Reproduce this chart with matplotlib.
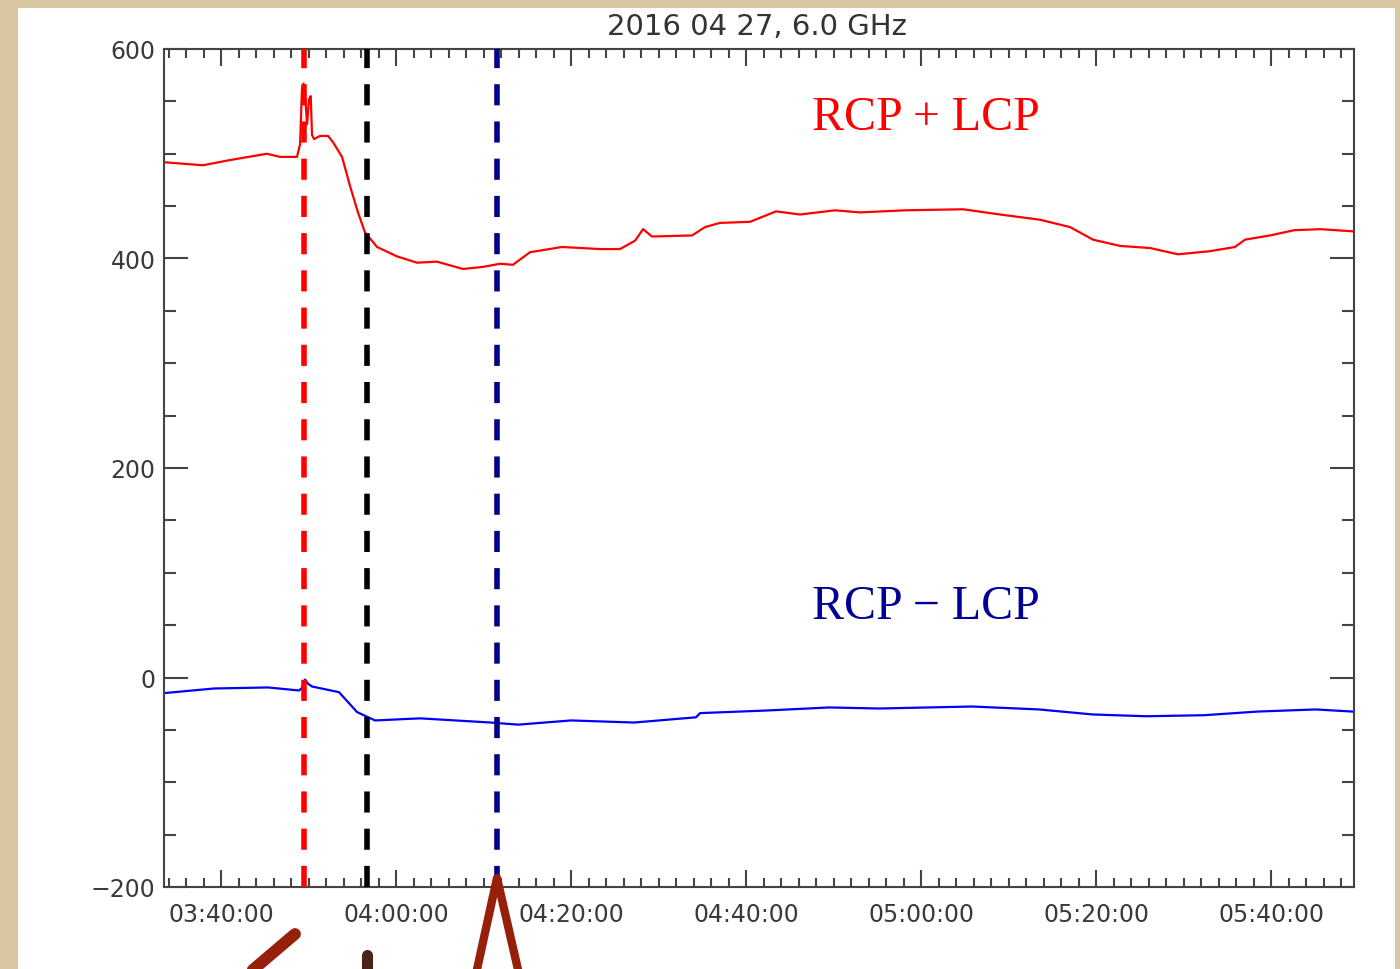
import matplotlib
matplotlib.use('Agg')
import numpy as np
import matplotlib.pyplot as plt
from matplotlib.ticker import MultipleLocator, FuncFormatter
from matplotlib.lines import Line2D
from matplotlib.patches import Rectangle

# total flux (RCP + LCP), sfu
sum_times = ['03:33:22', '03:37:56', '03:41:02', '03:45:15', '03:46:45', '03:48:41',
             '03:49:02', '03:49:15', '03:49:26', '03:49:36', '03:49:50', '03:50:03',
             '03:50:15', '03:50:24', '03:50:38', '03:51:19', '03:52:14', '03:52:48',
             '03:53:50', '03:54:45', '03:55:39', '03:56:27', '03:57:50', '04:00:07',
             '04:02:24', '04:04:41', '04:07:39', '04:09:57', '04:11:53', '04:13:22',
             '04:15:19', '04:16:48', '04:18:58', '04:23:19', '04:25:36', '04:27:19',
             '04:28:14', '04:29:15', '04:33:50', '04:35:19', '04:37:02', '04:40:27',
             '04:43:26', '04:46:10', '04:50:10', '04:53:02', '04:58:10', '05:04:48',
             '05:09:02', '05:13:36', '05:17:02', '05:19:39', '05:22:45', '05:26:10',
             '05:29:22', '05:33:02', '05:35:53', '05:37:02', '05:39:53', '05:42:38',
             '05:45:36', '05:49:15']
sum_flux = [492, 489, 494, 500, 497, 497,
            509, 561, 567, 557, 528, 552,
            555, 518, 514, 517, 517, 511,
            497, 469, 444, 425, 411, 402,
            396, 397, 390, 392, 395, 394,
            406, 408, 411, 409, 409, 417,
            428, 421, 422, 430, 434, 435,
            445, 442, 446, 444, 446, 447,
            442, 437, 430, 418, 412, 410,
            404, 407, 411, 418, 422, 427,
            428, 426]

# polarised flux (RCP - LCP), sfu
diff_times = ['03:33:22', '03:39:12', '03:45:22', '03:48:55', '03:49:15', '03:49:36',
              '03:49:57', '03:50:24', '03:53:29', '03:55:33', '03:57:36', '04:02:45',
              '04:10:51', '04:13:57', '04:20:00', '04:27:12', '04:34:17', '04:34:45',
              '04:42:24', '04:49:29', '04:55:12', '05:05:50', '05:13:29', '05:19:39',
              '05:25:43', '05:32:20', '05:38:31', '05:45:08', '05:49:15']
diff_flux = [-15, -10.5, -9.5, -12.4, -10, -2,
             -6, -8.6, -14, -33, -41, -39,
             -43, -45, -41, -43, -38, -34,
             -31.5, -28.6, -29.6, -27.7, -30.5, -35.3,
             -37, -36, -32.5, -30.5, -32.5]

# event markers
mark_times = ['03:49:26', '03:56:44', '04:11:32']
mark_colors = ['#ff0000', '#000000', '#00008c']

t_start, t_end = '03:33:29', '05:49:29'


def to_min(s):
    h, m, sec = [int(v) for v in s.split(':')]
    return h * 60 + m + sec / 60.0


def hms(x, pos=None):
    tot = int(round(x * 60))
    return '%02d:%02d:%02d' % (tot // 3600, (tot // 60) % 60, tot % 60)


W, H = 1400, 970
fig = plt.figure(figsize=(W / 100, H / 100), dpi=100)
fig.patch.set_facecolor('#d9c6a3')
fig.patches.append(Rectangle((18 / W, 0), (1395 - 18) / W, 1 - 9 / H,
                             transform=fig.transFigure, facecolor='white',
                             edgecolor='none', zorder=-1))

ax = fig.add_axes([164 / W, 1 - 888 / H, (1354 - 164) / W, (888 - 50) / H])
ax.set_facecolor('white')

ax.plot([to_min(t) for t in sum_times], sum_flux, color='#ff0000', lw=1.6)
ax.plot([to_min(t) for t in diff_times], diff_flux, color='#0000ff', lw=1.6)

for t, c in zip(mark_times, mark_colors):
    ax.axvline(to_min(t), color=c, lw=4.0, linestyle=(0, (3.8, 2.9)), zorder=3)

ax.set_xlim(to_min(t_start), to_min(t_end))
ax.set_ylim(-200, 600)

ax.xaxis.set_major_locator(MultipleLocator(20))
ax.xaxis.set_minor_locator(MultipleLocator(2))
ax.xaxis.set_major_formatter(FuncFormatter(hms))
ax.yaxis.set_major_locator(MultipleLocator(200))
ax.yaxis.set_minor_locator(MultipleLocator(50))
ax.yaxis.set_major_formatter(FuncFormatter(lambda v, p: ('%d' % v).replace('-', '\u2212')))

axc = '#444444'
ax.tick_params(axis='both', which='both', direction='in', top=True, right=True,
               color=axc, width=1.5, labelcolor='#3a3a3a', labelsize=17)
ax.tick_params(axis='x', which='major', length=12, pad=11)
ax.tick_params(axis='x', which='minor', length=6.5)
ax.tick_params(axis='y', which='major', length=17, pad=6)
ax.tick_params(axis='y', which='minor', length=8.6)
for sp in ax.spines.values():
    sp.set_color(axc)
    sp.set_linewidth(1.5)

fig.text(757 / W, 1 - 27.5 / H, '2016 04 27, 6.0 GHz', ha='center', va='center',
         fontsize=21, color='#333333')

ax.text(926 / W, 1 - 118 / H, 'RCP + LCP', transform=fig.transFigure,
        ha='center', va='center', fontsize=34.5, color='#ff0000',
        family='Liberation Serif')
ax.text(926 / W, 1 - 607 / H, 'RCP \u2212 LCP', transform=fig.transFigure,
        ha='center', va='center', fontsize=34.5, color='#000096',
        family='Liberation Serif')

# hand-drawn pointers below the time axis
arrow_red = '#96200a'
fig.lines.append(Line2D([295 / W, 248 / W], [1 - 935 / H, 1 - 975 / H],
                        transform=fig.transFigure, color=arrow_red, lw=8.5,
                        solid_capstyle='round'))
fig.lines.append(Line2D([367 / W, 367 / W], [1 - 956 / H, 1 - 975 / H],
                        transform=fig.transFigure, color='#4a2418', lw=8,
                        solid_capstyle='round'))
fig.lines.append(Line2D([476 / W, 497 / W, 519 / W],
                        [1 - 975 / H, 1 - 879 / H, 1 - 975 / H],
                        transform=fig.transFigure, color=arrow_red, lw=6,
                        solid_joinstyle='round', solid_capstyle='round'))

fig.savefig('out.png', dpi=100, facecolor=fig.get_facecolor())
